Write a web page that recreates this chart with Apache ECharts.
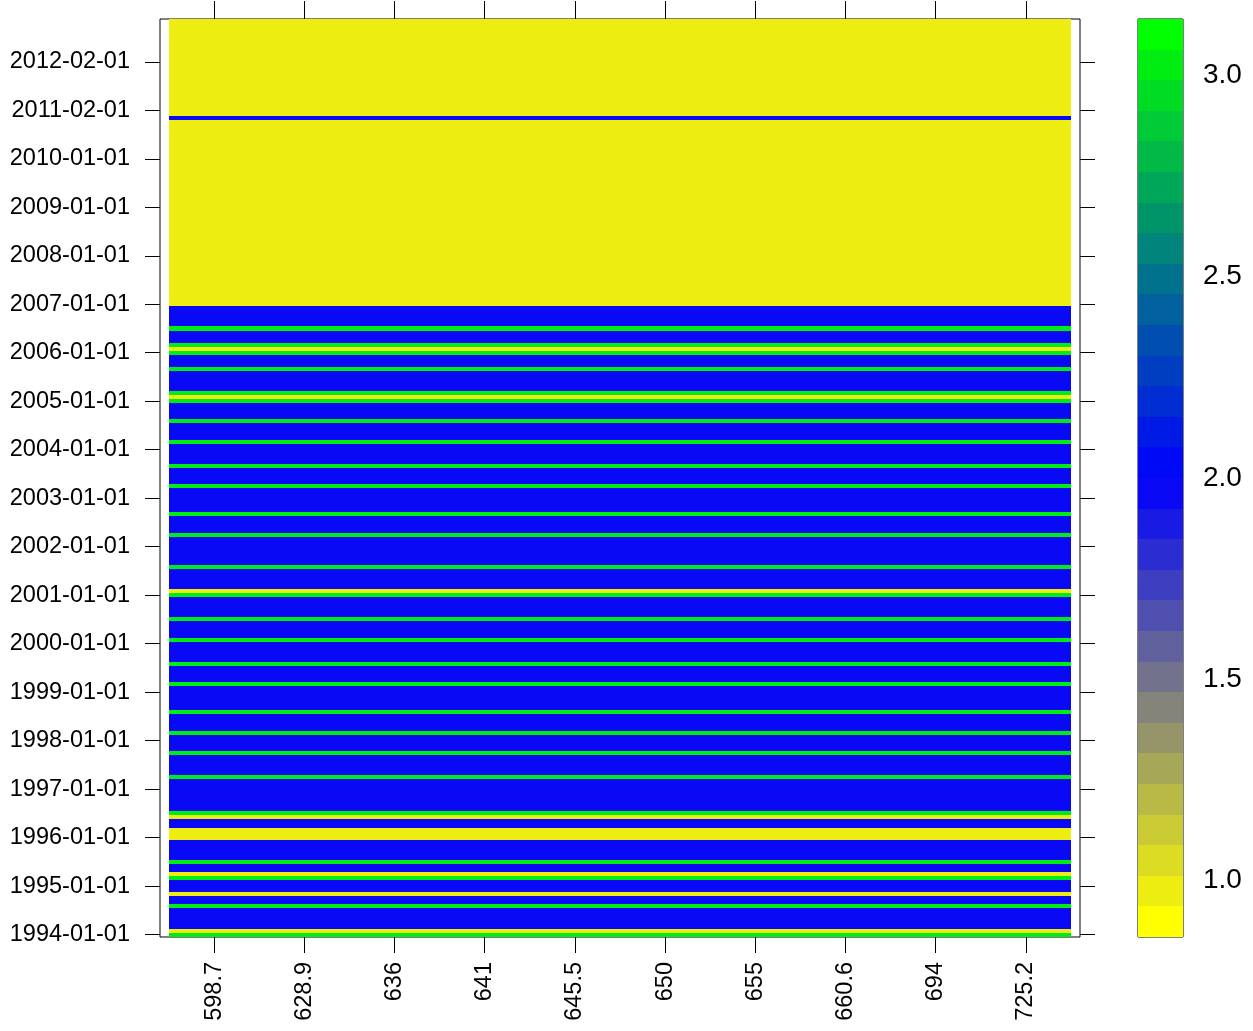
<!DOCTYPE html>
<html>
<head>
<meta charset="utf-8">
<script src="https://cdn.jsdelivr.net/npm/echarts@6/dist/echarts.min.js"></script>
<style>
html,body{margin:0;padding:0;background:#fff;}
#chart{width:1253px;height:1031px;}
</style>
</head>
<body>
<div id="chart"></div>
<script>
// Column categories (x axis)
var colLabels = ['598.7','628.9','636','641','645.5','650','655','660.6','694','725.2'];

// Y tick labels (every 12th level, starting at level 1)
var yTickLabels = ['1994-01-01','1995-01-01','1996-01-01','1997-01-01','1998-01-01','1999-01-01',
  '2000-01-01','2001-01-01','2002-01-01','2003-01-01','2004-01-01','2005-01-01','2006-01-01',
  '2007-01-01','2008-01-01','2009-01-01','2010-01-01','2011-02-01','2012-02-01'];
var yTickLevels = [1,13,25,37,49,61,73,85,97,109,121,133,145,157,169,181,193,205,217];

// Row values (one per monthly level, bottom to top); identical across all columns
var rowValues = [
  3,1,2,2,2,2,2,3,2,2,1,2,   // 1994
  2,2,3,1,2,2,3,2,2,2,2,2,   // 1995
  1,1,1,2,2,1,3,2,2,2,2,2,   // 1996
  2,2,2,3,2,2,2,2,2,3,2,2,   // 1997
  2,2,3,2,2,2,2,3,2,2,2,2,   // 1998
  2,2,3,2,2,2,2,3,2,2,2,2,   // 1999
  2,3,2,2,2,2,3,2,2,2,2,2,   // 2000
  3,1,2,2,2,2,2,3,2,2,2,2,   // 2001
  2,2,2,3,2,2,2,2,3,2,2,2,   // 2002
  2,2,2,3,2,2,2,2,3,2,2,2,   // 2003
  2,2,3,2,2,2,2,3,2,2,2,2,   // 2004
  3,1,3,2,2,2,2,2,3,2,2,2,   // 2005
  3,1,3,2,2,2,3,2,2,2,2,2,   // 2006
  1,1,1,1,1,1,1,1,1,1,1,1,   // 2007
  1,1,1,1,1,1,1,1,1,1,1,1,   // 2008
  1,1,1,1,1,1,1,1,1,1,1,1,   // 2009
  1,1,1,1,1,1,1,1,1,1,2,1,   // 2010
  1,1,1,1,1,1,1,1,1,1,1,     // 2011 (Feb-Dec)
  1,1,1,1,1,1,1,1,1,1,1,1    // 2012
];

// Color key breaks and colors
var keyBreaks = [0.860,0.936,1.012,1.088,1.164,1.240,1.316,1.392,1.468,1.544,1.620,1.696,1.772,1.848,1.924,
  2.000,2.076,2.152,2.228,2.304,2.380,2.456,2.532,2.608,2.684,2.760,2.836,2.912,2.988,3.064,3.140];
var keyColors = ['#FFFF00','#EDED12','#DCDC23','#CACA35','#B9B946','#A7A758','#959569','#84847B','#72728D','#61619E',
  '#4F4FB0','#3E3EC1','#2C2CD3','#1A1AE5','#0909F6','#0009F6','#001AE5','#002CD3','#003EC1','#004FB0',
  '#00619E','#00728D','#00847B','#009569','#00A758','#00B946','#00CA35','#00DC23','#00ED12','#00FF00'];
var keyTicks = [1.0,1.5,2.0,2.5,3.0];

function colorFor(v){
  for (var i = 0; i < keyColors.length; i++){
    if (v > keyBreaks[i] && v <= keyBreaks[i+1]) return keyColors[i];
  }
  return keyColors[keyColors.length-1];
}

var cellData = [];
for (var r = 0; r < rowValues.length; r++){
  for (var c = 0; c < colLabels.length; c++){
    cellData.push([c+1, r+1, rowValues[r]]);
  }
}
var keyData = [];
for (var i = 0; i < keyColors.length; i++){
  keyData.push([i, keyBreaks[i], keyBreaks[i+1]]);
}
var nRows = rowValues.length;
var colTickVals = colLabels.map(function(_, i){ return i+1; });

var FONT = '"Liberation Sans", Arial, Helvetica, sans-serif';
var FS = 23.5;
var FSKEY = 28;

var chart = echarts.init(document.getElementById('chart'), null, {renderer:'canvas'});
chart.setOption({
  animation: false,
  backgroundColor: '#fff',
  grid: [
    {left:160, top:19, width:920, height:918, show:true, borderColor:'#000', borderWidth:1, backgroundColor:'#fff'},
    {left:1138, top:19, width:45, height:918, show:true, borderColor:'#000', borderWidth:1, backgroundColor:'transparent'}
  ],
  xAxis: [
    {gridIndex:0, type:'value', position:'bottom', min:0.4, max:10.6,
     axisLine:{show:false}, splitLine:{show:false},
     axisTick:{show:true, customValues:colTickVals, length:16, inside:false, lineStyle:{color:'#000', width:1}},
     axisLabel:{show:true, customValues:colTickVals, rotate:90, margin:25, color:'#000', fontFamily:FONT, fontSize:FS,
       formatter:function(v){ return colLabels[Math.round(v)-1]; }}},
    {gridIndex:0, type:'value', position:'top', min:0.4, max:10.6,
     axisLine:{show:false}, splitLine:{show:false},
     axisTick:{show:true, customValues:colTickVals, length:18, inside:false, lineStyle:{color:'#000', width:1}},
     axisLabel:{show:false}},
    {gridIndex:1, type:'value', min:0, max:1, show:false}
  ],
  yAxis: [
    {gridIndex:0, type:'value', position:'left', min:0.4, max:nRows+0.6,
     axisLine:{show:false}, splitLine:{show:false},
     axisTick:{show:true, customValues:yTickLevels, length:15, inside:false, lineStyle:{color:'#000', width:1}},
     axisLabel:{show:true, customValues:yTickLevels, margin:30, color:'#000', fontFamily:FONT, fontSize:FS,
       formatter:function(v){ var k = yTickLevels.indexOf(Math.round(v)); return k >= 0 ? yTickLabels[k] : ''; }}},
    {gridIndex:0, type:'value', position:'right', min:0.4, max:nRows+0.6,
     axisLine:{show:false}, splitLine:{show:false},
     axisTick:{show:true, customValues:yTickLevels, length:15, inside:false, lineStyle:{color:'#000', width:1}},
     axisLabel:{show:false}},
    {gridIndex:1, type:'value', position:'right', min:keyBreaks[0], max:keyBreaks[keyBreaks.length-1],
     axisLine:{show:false}, splitLine:{show:false},
     axisTick:{show:true, customValues:keyTicks, length:12, inside:false, lineStyle:{color:'#000', width:1}},
     axisLabel:{show:true, customValues:keyTicks, margin:20, color:'#000', fontFamily:FONT, fontSize:FSKEY,
       formatter:function(v){ return v.toFixed(1); }}}
  ],
  series: [
    {type:'custom', xAxisIndex:0, yAxisIndex:0, clip:true, encode:{x:0, y:1}, data:cellData, z:1,
     renderItem:function(params, api){
       var c = api.value(0), r = api.value(1);
       var p0 = api.coord([c-0.5, r+0.5]);
       var p1 = api.coord([c+0.5, r-0.5]);
       var x0 = Math.round(p0[0]), y0 = Math.round(p0[1]), x1 = Math.round(p1[0]), y1 = Math.round(p1[1]);
       return {type:'rect', shape:{x:x0, y:y0, width:x1-x0, height:y1-y0}, style:{fill:colorFor(api.value(2))}};
     }},
    {type:'custom', xAxisIndex:2, yAxisIndex:2, clip:true, encode:{y:[1,2]}, data:keyData, z:1,
     renderItem:function(params, api){
       var p0 = api.coord([0, api.value(2)]);
       var p1 = api.coord([1, api.value(1)]);
       var x0 = Math.round(p0[0]), y0 = Math.round(p0[1]), x1 = Math.round(p1[0]), y1 = Math.round(p1[1]);
       return {type:'rect', shape:{x:x0, y:y0, width:x1-x0, height:y1-y0}, style:{fill:keyColors[api.value(0)]}};
     }}
  ]
});
</script>
</body>
</html>
